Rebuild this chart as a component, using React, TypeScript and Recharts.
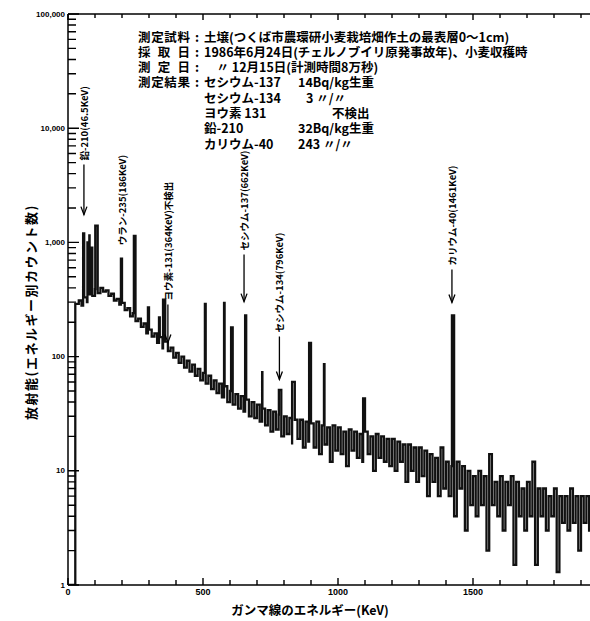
import { LineChart, Line, XAxis, YAxis, ReferenceLine, ReferenceDot } from "recharts";

// gamma spectrum: continuum every 10 keV, plus the photopeaks
const continuumKeV = [
  0, 27,
  30, 40, 50, 60, 70, 80, 90,
  100, 110, 120, 130, 140, 150, 160, 170, 180, 190,
  200, 210, 220, 230, 240, 250, 260, 270, 280, 290,
  300, 310, 320, 330, 340, 350, 360, 370, 380, 390,
  400, 410, 420, 430, 440, 450, 460, 470, 480, 490,
  500, 510, 520, 530, 540, 550, 560, 570, 580, 590,
  600, 610, 620, 630, 640, 650, 660, 670, 680, 690,
  700, 710, 720, 730, 740, 750, 760, 770, 780, 790,
  800, 810, 820, 830, 840, 850, 860, 870, 880, 890,
  900, 910, 920, 930, 940, 950, 960, 970, 980, 990,
  1000, 1010, 1020, 1030, 1040, 1050, 1060, 1070, 1080, 1090,
  1100, 1110, 1120, 1130, 1140, 1150, 1160, 1170, 1180, 1190,
  1200, 1210, 1220, 1230, 1240, 1250, 1260, 1270, 1280, 1290,
  1300, 1310, 1320, 1330, 1340, 1350, 1360, 1370, 1380, 1390,
  1400, 1410, 1420, 1430, 1440, 1450, 1460, 1470, 1480, 1490,
  1500, 1510, 1520, 1530, 1540, 1550, 1560, 1570, 1580, 1590,
  1600, 1610, 1620, 1630, 1640, 1650, 1660, 1670, 1680, 1690,
  1700, 1710, 1720, 1730, 1740, 1750, 1760, 1770, 1780, 1790,
  1800, 1810, 1820, 1830, 1840, 1850, 1860, 1870, 1880, 1890,
  1900, 1910, 1920, 1930, 1940, 1950, 1960, 1970, 1980, 1990,
  2000,
];
const continuumCounts = [
  1, 290,
  290, 310, 280, 330, 300, 350, 340,
  390, 360, 400, 370, 380, 340, 355, 310, 320, 285,
  295, 255, 265, 225, 240, 205, 215, 182, 195, 160,
  172, 150, 160, 132, 148, 118, 135, 112, 120, 98,
  108, 88, 100, 80, 92, 74, 85, 68, 78, 62,
  72, 58, 68, 52, 62, 48, 58, 44, 55, 40,
  50, 38, 47, 35, 45, 33, 42, 30, 40, 29,
  38, 27, 35, 25, 34, 22, 33, 23, 31, 20,
  30, 21, 29, 17, 28, 19, 28, 16, 27, 18,
  26, 16, 27, 14, 25, 17, 24, 12, 25, 15,
  24, 14, 22, 11, 23, 15, 22, 13, 21, 12,
  22, 14, 20, 10, 21, 13, 20, 12, 19, 11,
  19, 10, 18, 12, 17, 8, 17, 10, 16, 8,
  16, 9, 15, 6, 14, 8, 13, 6, 16, 7,
  12, 6, 11, 4, 12, 7, 11, 3, 10, 5,
  9, 4, 10, 5, 9, 2, 14, 5, 8, 4,
  9, 3, 8, 5, 9, 1.5, 8, 4, 7, 3,
  8, 4, 12, 1.5, 7, 4, 7, 3, 6, 4,
  7, 1.3, 6, 3.5, 6, 3, 7, 3.5, 6, 2,
  6, 3.5, 6, 3, 5, 3.5, 6, 1.5, 5, 3,
  5,
];
const peakKeV = [56, 72, 79, 88, 101, 196, 244, 296, 337, 352, 507, 578, 604, 656, 719, 781, 830, 893, 948, 1093, 1422];
const peakCounts = [1200, 1000, 1150, 900, 1400, 720, 1140, 270, 220, 315, 290, 295, 180, 230, 73, 51, 60, 132, 86, 43, 230];

// nuclide call-outs: label, energy, arrow top and arrow tip (counts)
const nuclideLabels = [
  "鉛-210(46.5KeV)",
  "ウラン-235(186KeV)",
  "ヨウ素-131(364KeV)不検出",
  "セシウム-137(662KeV)",
  "セシウム-134(796KeV)",
  "カリウム-40(1461KeV)",
];
const nuclideKeV = [59, 200, 370, 652, 783, 1422];
const arrowTopCounts = [4800, 870, 286, 785, 150, 580];
const arrowTipCounts = [1750, 870, 133, 303, 63, 298];

const xTickKeV = [0, 100, 200, 300, 400, 500, 600, 700, 800, 900, 1000, 1100, 1200, 1300, 1400, 1500, 1600, 1700, 1800, 1900, 2000];
const xLabelKeV = [0, 500, 1000, 1500, 2000];
const decadeValues = [1, 10, 100, 1000, 10000, 100000];
const decadeLabels = ["1", "10", "100", "1,000", "10,000", "100,000"];
const minorSteps = [2, 3, 4, 5, 6, 7, 8, 9];

const infoHeads = ["測定試料", "採取日", "測定日", "測定結果"];
const infoValues = [
  "土壌(つくば市農環研小麦栽培畑作土の最表層0〜1cm)",
  "1986年6月24日(チェルノブイリ原発事故年)、小麦収穫時",
  "　〃 12月15日(計測時間8万秒)",
];
const resultNames = ["セシウム-137", "セシウム-134", "ヨウ素 131", "鉛-210", "カリウム-40"];
const resultValues = ["14Bq/kg生重", "3 〃/〃", "不検出", "32Bq/kg生重", "243 〃/〃"];

const spectrum = [
  ...continuumKeV.map((keV, i) => ({ keV, counts: continuumCounts[i] })),
  ...peakKeV.map((keV, i) => ({ keV, counts: peakCounts[i] })),
].sort((a, b) => a.keV - b.keV);

const yTicks = decadeValues.flatMap((d, i) =>
  i < decadeValues.length - 1 ? [d, ...minorSteps.map((m) => d * m)] : [d]
);

// plot frame (must agree with the LineChart margins / axis sizes below)
const PLOT = { left: 68, right: 608, top: 14, bottom: 585 };
const X_MAX = 2000;
const LOG_SPAN = 5;
const px = (keV: number) => PLOT.left + (keV / X_MAX) * (PLOT.right - PLOT.left);
const py = (v: number) => PLOT.bottom - (Math.log10(v) / LOG_SPAN) * (PLOT.bottom - PLOT.top);

const jp = "'Noto Sans CJK JP', 'Noto Sans', sans-serif";
const tickFont = "'Liberation Sans', Arial, sans-serif";

function YTick(props: any) {
  const { x, y, payload } = props;
  const i = decadeValues.indexOf(payload.value);
  if (i < 0) return <g />;
  return (
    <text x={x - 3} y={y} textAnchor="end" dominantBaseline="central" fontSize={8} fontWeight={700} fontFamily={tickFont}>
      {decadeLabels[i]}
    </text>
  );
}

function XTick(props: any) {
  const { x, y, payload } = props;
  if (!xLabelKeV.includes(payload.value)) return <g />;
  return (
    <text x={x} y={y + 10} textAnchor="middle" fontSize={9} fontWeight={700} fontFamily={tickFont}>
      {payload.value}
    </text>
  );
}

const arrowHead = ({ cx, cy }: any) => (
  <path d={`M${cx - 3},${cy - 8} L${cx},${cy} L${cx + 3},${cy - 8}`} fill="none" stroke="#000" strokeWidth={1.3} />
);

const nuclideLabel = (text: string) => ({ cx, cy }: any) => (
  <text
    x={cx}
    y={cy - 4}
    transform={`rotate(-90 ${cx} ${cy - 4})`}
    textAnchor="start"
    dominantBaseline="central"
    fontSize={9.5}
    fontWeight={700}
    fontFamily={jp}
  >
    {text}
  </text>
);

export default function App() {
  const rowY = (i: number) => 36 + i * 15.3;
  const tickPath = [
    ...yTicks.map((v) => `M${PLOT.left},${py(v)}h${decadeValues.includes(v) ? 11 : 8}`),
    ...xTickKeV.map((e) => `M${px(e)},${PLOT.bottom}v${xLabelKeV.includes(e) ? -7 : -5}`),
    ...xTickKeV.map((e) => `M${px(e)},${PLOT.top}v${xLabelKeV.includes(e) ? 6 : 4}`),
  ].join(" ");
  return (
    <div style={{ position: "fixed", left: 0, top: 0, width: 590, height: 621, overflow: "hidden", background: "#fff" }}>
      <LineChart width={620} height={621} data={spectrum} margin={{ top: 14, right: 12, bottom: 6, left: 8 }}>
        <XAxis
          dataKey="keV"
          type="number"
          domain={[0, X_MAX]}
          ticks={xTickKeV}
          interval={0}
          tickSize={0}
          tickMargin={0}
          tickLine={false}
          tick={<XTick />}
          height={30}
          axisLine={{ stroke: "#000", strokeWidth: 1.5 }}
          allowDataOverflow
        />
        <YAxis
          scale="log"
          domain={[1, 100000]}
          ticks={yTicks}
          interval={0}
          tickSize={0}
          tickMargin={0}
          tickLine={false}
          tick={<YTick />}
          width={60}
          axisLine={{ stroke: "#000", strokeWidth: 1.5 }}
          allowDataOverflow
        />
        <ReferenceLine y={100000} stroke="#000" strokeWidth={1.5} ifOverflow="visible" />
        <Line
          dataKey="counts"
          type="stepAfter"
          stroke="#111"
          strokeWidth={2.3}
          dot={false}
          isAnimationActive={false}
        />
        {nuclideKeV.map((keV, i) =>
          arrowTopCounts[i] !== arrowTipCounts[i] ? (
            <ReferenceLine
              key={`shaft-${i}`}
              segment={[{ x: keV, y: arrowTopCounts[i] }, { x: keV, y: arrowTipCounts[i] }]}
              stroke="#000"
              strokeWidth={1.3}
            />
          ) : null
        )}
        {nuclideKeV.map((keV, i) =>
          arrowTopCounts[i] !== arrowTipCounts[i] ? (
            <ReferenceDot key={`head-${i}`} x={keV} y={arrowTipCounts[i]} r={3} shape={arrowHead} />
          ) : null
        )}
        {nuclideKeV.map((keV, i) => (
          <ReferenceDot key={`label-${i}`} x={keV} y={arrowTopCounts[i]} r={3} shape={nuclideLabel(nuclideLabels[i])} />
        ))}
      </LineChart>
      <svg width={590} height={621} style={{ position: "absolute", left: 0, top: 0, pointerEvents: "none" }}>
        <path d={tickPath} stroke="#000" strokeWidth={1.4} fill="none" />
        <g fontFamily={jp} fontWeight={700} fontSize={12.5} fill="#000">
          {infoHeads.map((h, i) => (
            <text key={h} x={138} y={rowY(i)} dominantBaseline="central" textLength={52} lengthAdjust="spacing">
              {h}
            </text>
          ))}
          {infoHeads.map((h, i) => (
            <text key={`c-${h}`} x={195} y={rowY(i)} dominantBaseline="central">:</text>
          ))}
          {infoValues.map((v, i) => (
            <text key={v} x={204} y={rowY(i)} dominantBaseline="central">{v}</text>
          ))}
          {resultNames.map((n, i) => (
            <text key={n} x={204} y={rowY(i + 3)} dominantBaseline="central">{n}</text>
          ))}
          {resultValues.map((v, i) => (
            <text key={`r-${i}`} x={i === 1 ? 306 : i === 2 ? 332 : 298} y={rowY(i + 3)} dominantBaseline="central">{v}</text>
          ))}
        </g>
        <text
          x={30}
          y={312}
          transform="rotate(-90 30 312)"
          textAnchor="middle"
          dominantBaseline="central"
          fontFamily={jp}
          fontWeight={700}
          fontSize={13}
          letterSpacing={1.5}
        >
          放射能(エネルギー別カウント数)
        </text>
        <text x={310} y={609} textAnchor="middle" dominantBaseline="central" fontFamily={jp} fontWeight={700} fontSize={12.5}>
          ガンマ線のエネルギー(KeV)
        </text>
      </svg>
    </div>
  );
}
